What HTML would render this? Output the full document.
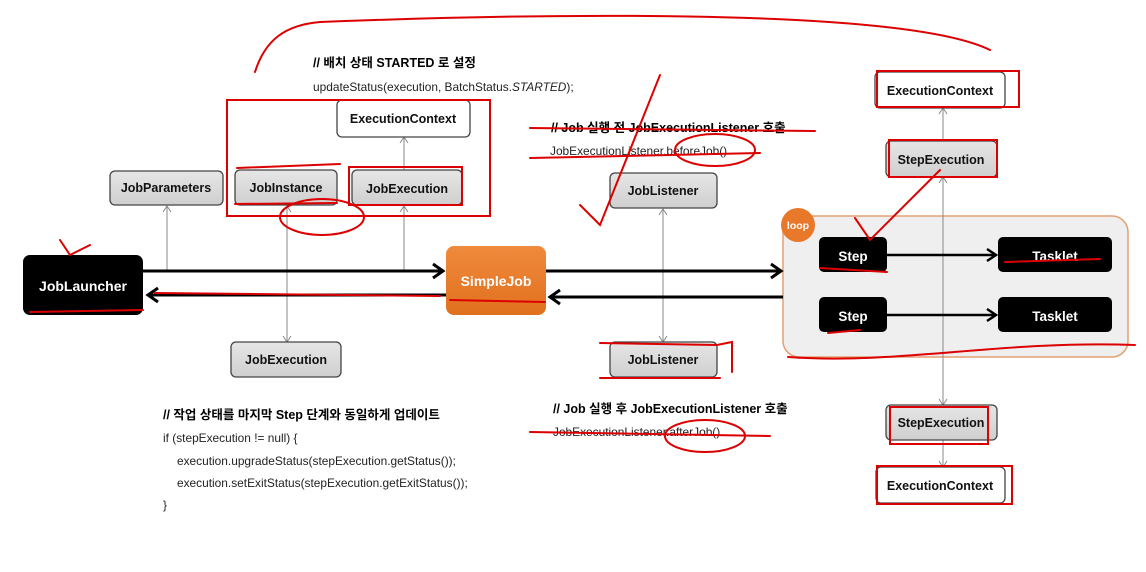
<!DOCTYPE html>
<html><head><meta charset="utf-8"><style>
html,body{margin:0;padding:0;background:#fff;}
svg{display:block;font-family:"Liberation Sans","Noto Sans CJK KR",sans-serif;}
.b{font-weight:bold;font-size:12.5px;}
.t{font-size:11.9px;fill:#222;}
</style></head><body>
<svg width="1146" height="572" viewBox="0 0 1146 572" xmlns="http://www.w3.org/2000/svg">
<defs>
<linearGradient id="g" x1="0" y1="0" x2="0" y2="1"><stop offset="0" stop-color="#e6e6e6"/><stop offset="1" stop-color="#cfcfcf"/></linearGradient>
<linearGradient id="o" x1="0" y1="0" x2="0" y2="1"><stop offset="0" stop-color="#f08a3c"/><stop offset="1" stop-color="#e0701e"/></linearGradient>
</defs>
<rect x="783" y="216" width="345" height="141" rx="16" fill="#efefef" stroke="#e4a070" stroke-width="1.5"/>
<circle cx="798" cy="225" r="17" fill="#e8782a"/>
<text x="798" y="229" font-size="10.5" font-weight="bold" fill="#fff" text-anchor="middle">loop</text>

<g stroke="#888" stroke-width="1" fill="none">
<line x1="167" y1="206" x2="167" y2="271"/><polyline points="163,212 167,206 171,212"/>
<line x1="287" y1="206" x2="287" y2="342"/><polyline points="283,212 287,206 291,212"/><polyline points="283,336 287,342 291,336"/>
<line x1="404" y1="206" x2="404" y2="271"/><polyline points="400,212 404,206 408,212"/>
<line x1="404" y1="137" x2="404" y2="170"/><polyline points="400,143 404,137 408,143"/>
<line x1="663" y1="209" x2="663" y2="342"/><polyline points="659,215 663,209 667,215"/><polyline points="659,336 663,342 667,336"/>
<line x1="943" y1="108" x2="943" y2="141"/><polyline points="939,114 943,108 947,114"/>
<line x1="943" y1="177" x2="943" y2="405"/><polyline points="939,183 943,177 947,183"/><polyline points="939,399 943,405 947,399"/>
<line x1="943" y1="440" x2="943" y2="467"/><polyline points="939,461 943,467 947,461"/>
</g>

<g stroke="#000" stroke-width="3" fill="none">
<line x1="143" y1="271" x2="443" y2="271"/><polyline points="433,264 443,271 433,278"/>
<line x1="446" y1="295" x2="148" y2="295"/><polyline points="158,288 148,295 158,302"/>
<line x1="546" y1="271" x2="781" y2="271"/><polyline points="771,264 781,271 771,278"/>
<line x1="783" y1="297" x2="550" y2="297"/><polyline points="560,290 550,297 560,304"/>
<line x1="887" y1="255" x2="996" y2="255" stroke-width="2.5"/><polyline points="987,249 996,255 987,261" stroke-width="2.5"/>
<line x1="887" y1="315" x2="996" y2="315" stroke-width="2.5"/><polyline points="987,309 996,315 987,321" stroke-width="2.5"/>
</g>

<g stroke="#444" stroke-width="1.3" fill="url(#g)">
<rect x="110" y="171" width="113" height="34" rx="5"/>
<rect x="235" y="170" width="102" height="35" rx="5"/>
<rect x="352" y="170" width="110" height="35" rx="5"/>
<rect x="231" y="342" width="110" height="35" rx="5"/>
<rect x="610" y="173" width="107" height="35" rx="5"/>
<rect x="610" y="342" width="107" height="35" rx="5"/>
<rect x="886" y="141" width="111" height="36" rx="5"/>
<rect x="886" y="405" width="111" height="35" rx="5"/>
</g>
<g stroke="#444" stroke-width="1.3" fill="#fff">
<rect x="337" y="100" width="133" height="37" rx="5"/>
<rect x="875" y="72" width="130" height="36" rx="5"/>
<rect x="876" y="467" width="129" height="36" rx="5"/>
</g>
<g fill="#000">
<rect x="23" y="255" width="120" height="60" rx="7"/>
<rect x="819" y="237" width="68" height="35" rx="5"/>
<rect x="998" y="237" width="114" height="35" rx="5"/>
<rect x="819" y="297" width="68" height="35" rx="5"/>
<rect x="998" y="297" width="114" height="35" rx="5"/>
</g>
<rect x="446" y="246" width="100" height="69" rx="8" fill="url(#o)"/>

<g class="b" text-anchor="middle" fill="#111">
<text x="166" y="192">JobParameters</text>
<text x="286" y="192">JobInstance</text>
<text x="407" y="193">JobExecution</text>
<text x="286" y="364">JobExecution</text>
<text x="403" y="123">ExecutionContext</text>
<text x="663" y="195">JobListener</text>
<text x="663" y="364">JobListener</text>
<text x="941" y="164">StepExecution</text>
<text x="941" y="427">StepExecution</text>
<text x="940" y="95">ExecutionContext</text>
<text x="940" y="490">ExecutionContext</text>
</g>
<g font-weight="bold" text-anchor="middle" fill="#fff">
<text x="83" y="291" font-size="14">JobLauncher</text>
<text x="496" y="286" font-size="14">SimpleJob</text>
<text x="853" y="261" font-size="13.5">Step</text>
<text x="853" y="321" font-size="13.5">Step</text>
<text x="1055" y="261" font-size="13.5">Tasklet</text>
<text x="1055" y="321" font-size="13.5">Tasklet</text>
</g>

<text x="313" y="67" class="b" font-size="11.5">// 배치 상태 STARTED 로 설정</text>
<text x="313" y="91" class="t">updateStatus(execution, BatchStatus.<tspan font-style="italic">STARTED</tspan>);</text>
<text x="551" y="132" class="b" font-size="11.5">// Job 실행 전 JobExecutionListener 호출</text>
<text x="550" y="155" class="t">JobExecutionListener.beforeJob()</text>
<text x="553" y="413" class="b" font-size="11.5">// Job 실행 후 JobExecutionListener 호출</text>
<text x="553" y="436" class="t">JobExecutionListener.afterJob()</text>
<text x="163" y="419" class="b" font-size="11.5">// 작업 상태를 마지막 Step 단계와 동일하게 업데이트</text>
<text x="163" y="442" class="t">if (stepExecution != null) {</text>
<text x="177" y="465" class="t">execution.upgradeStatus(stepExecution.getStatus());</text>
<text x="177" y="487" class="t">execution.setExitStatus(stepExecution.getExitStatus());</text>
<text x="163" y="509" class="t">}</text>

<g stroke="#d00" stroke-width="2" fill="none" stroke-linecap="round">
<path d="M255,72 C265,40 285,25 320,22 C500,15 900,5 990,50"/>
<rect x="227" y="100" width="263" height="116"/>
<path d="M237,168 L340,164 M235,204 L337,203"/>
<rect x="349" y="167" width="113" height="38"/>
<ellipse cx="322" cy="217" rx="42" ry="18"/>
<path d="M30,312 L143,310 M155,293 L440,296"/>
<path d="M60,240 L70,255 L90,245"/>
<path d="M450,300 L545,302"/>
<path d="M530,128 L815,131 M530,158 L760,153 M530,432 L770,436 M600,343 L717,345 L732,342 L732,372 M600,378 L720,378"/>
<path d="M580,205 L600,225 L660,75"/>
<path d="M855,218 L870,240 L940,170"/>
<path d="M788,357 C900,365 1000,340 1135,345"/>
<rect x="877" y="71" width="142" height="36"/>
<rect x="889" y="140" width="108" height="37"/>
<rect x="890" y="407" width="98" height="37"/>
<rect x="877" y="466" width="135" height="38"/>
<path d="M1005,262 L1100,259 M828,333 L860,330 M820,268 L887,272"/>
<ellipse cx="715" cy="150" rx="40" ry="16"/>
<ellipse cx="705" cy="436" rx="40" ry="16"/>
</g>
</svg>
</body></html>
